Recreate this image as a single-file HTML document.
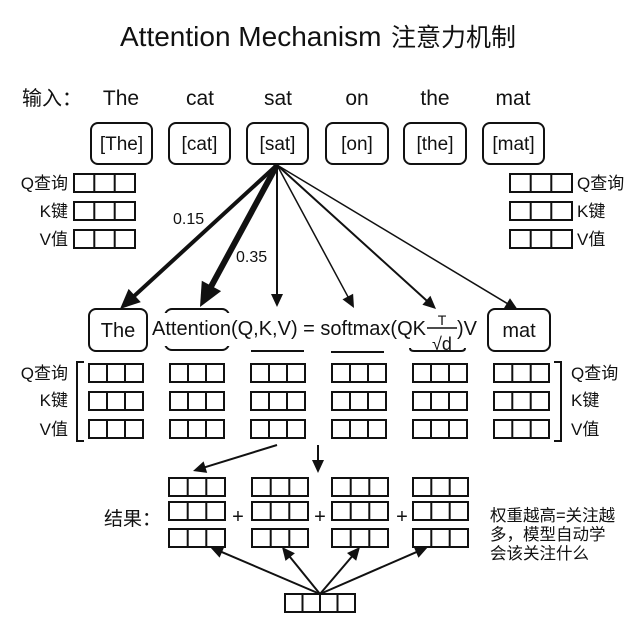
<!DOCTYPE html>
<html><head><meta charset="utf-8"><style>
html,body{margin:0;padding:0;background:#fff;}
svg{display:block;}
text{font-family:"Liberation Sans","Noto Sans CJK SC",sans-serif;fill:#111;}
</style></head><body>
<svg width="640" height="640" viewBox="0 0 640 640" xmlns="http://www.w3.org/2000/svg">
<rect width="640" height="640" fill="#fff"/>
<!-- Title -->
<text x="120" y="46" font-size="28">Attention Mechanism</text>
<text x="391" y="46" font-size="25">注意力机制</text>

<!-- input row -->
<text x="22" y="105" font-size="20">输入：</text>
<g font-size="21" text-anchor="middle">
<text x="121" y="105">The</text>
<text x="200" y="105">cat</text>
<text x="278" y="105">sat</text>
<text x="357" y="105">on</text>
<text x="435" y="105">the</text>
<text x="513" y="105">mat</text>
</g>

<!-- token boxes -->
<g fill="none" stroke="#111" stroke-width="2">
<rect x="91" y="123" width="61" height="41" rx="7"/>
<rect x="169" y="123" width="61" height="41" rx="7"/>
<rect x="247" y="123" width="61" height="41" rx="7"/>
<rect x="326" y="123" width="62" height="41" rx="7"/>
<rect x="404" y="123" width="62" height="41" rx="7"/>
<rect x="483" y="123" width="61" height="41" rx="7"/>
</g>
<g font-size="19" text-anchor="middle">
<text x="121.5" y="150">[The]</text>
<text x="199.5" y="150">[cat]</text>
<text x="277.5" y="150">[sat]</text>
<text x="357" y="150">[on]</text>
<text x="435" y="150">[the]</text>
<text x="513.5" y="150">[mat]</text>
</g>

<!-- top left QKV -->
<g font-size="17" text-anchor="end">
<text x="68" y="189">Q查询</text>
<text x="68" y="217">K键</text>
<text x="68" y="245">V值</text>
</g>
<g fill="none" stroke="#111" stroke-width="2">
<rect x="74" y="174" width="61" height="18"/><path d="M94.3 174V192M114.7 174V192"/>
<rect x="74" y="202" width="61" height="18"/><path d="M94.3 202V220M114.7 202V220"/>
<rect x="74" y="230" width="61" height="18"/><path d="M94.3 230V248M114.7 230V248"/>
<rect x="510" y="174" width="62" height="18"/><path d="M530.7 174V192M551.3 174V192"/>
<rect x="510" y="202" width="62" height="18"/><path d="M530.7 202V220M551.3 202V220"/>
<rect x="510" y="230" width="62" height="18"/><path d="M530.7 230V248M551.3 230V248"/>
</g>
<g font-size="17">
<text x="577" y="189">Q查询</text>
<text x="577" y="217">K键</text>
<text x="577" y="245">V值</text>
</g>

<!-- attention arrows from sat -->
<g stroke="#111" fill="none" stroke-linecap="butt">
<line x1="277" y1="165" x2="131.8" y2="298.2" stroke-width="4"/>
<line x1="277" y1="165" x2="209.5" y2="289.4" stroke-width="6"/>
<line x1="277" y1="165" x2="277" y2="296" stroke-width="2"/>
<line x1="277" y1="165" x2="348.8" y2="298.3" stroke-width="1.5"/>
<line x1="277" y1="165" x2="427.8" y2="301.6" stroke-width="2"/>
<line x1="277" y1="165" x2="508.6" y2="304.3" stroke-width="1.5"/>
</g>
<g fill="#111">
<polygon points="120,309 140.8,302.1 128.6,288.9"/>
<polygon points="200,307 221.1,291.1 201.8,280.7"/>
<polygon points="277,307 271,294 283,294"/>
<polygon points="354,308 353.1,293.7 342.5,299.4"/>
<polygon points="436,309 430.4,295.8 422.4,304.7"/>
<polygon points="518,310 510,298.2 503.8,308.4"/>
</g>
<text x="173" y="224" font-size="16">0.15</text>
<text x="236" y="262" font-size="16">0.35</text>

<!-- row 2 -->
<g fill="none" stroke="#111" stroke-width="2">
<rect x="89" y="309" width="58" height="42" rx="7"/>
<rect x="488" y="309" width="62" height="42" rx="7"/>
<rect x="165" y="309" width="64" height="41" rx="7"/>
</g>
<rect x="150" y="313" width="330" height="33" fill="#fff"/>
<g fill="none" stroke="#111" stroke-width="2">
<line x1="251" y1="351" x2="304" y2="351"/>
<line x1="331" y1="352" x2="384" y2="352"/>
<path d="M410 348Q410 351 414 351H461Q465 351 465 348"/>
</g>
<text x="118" y="337" font-size="20" text-anchor="middle">The</text>
<text x="519" y="337" font-size="20" text-anchor="middle">mat</text>
<text x="152" y="335" font-size="20">Attention(Q,K,V) = softmax(QK</text>
<text x="442" y="325" font-size="14" text-anchor="middle">T</text>
<line x1="427" y1="328" x2="457" y2="328" stroke="#111" stroke-width="1.5"/>
<text x="442" y="350" font-size="18" text-anchor="middle">√d</text>
<text x="457" y="335" font-size="20">)V</text>

<!-- middle grids -->
<g fill="none" stroke="#111" stroke-width="2">
<rect x="89" y="364" width="54" height="18"/><path d="M107 364V382M125 364V382"/>
<rect x="89" y="392" width="54" height="18"/><path d="M107 392V410M125 392V410"/>
<rect x="89" y="420" width="54" height="18"/><path d="M107 420V438M125 420V438"/>
<rect x="170" y="364" width="54" height="18"/><path d="M188 364V382M206 364V382"/>
<rect x="170" y="392" width="54" height="18"/><path d="M188 392V410M206 392V410"/>
<rect x="170" y="420" width="54" height="18"/><path d="M188 420V438M206 420V438"/>
<rect x="251" y="364" width="54" height="18"/><path d="M269 364V382M287 364V382"/>
<rect x="251" y="392" width="54" height="18"/><path d="M269 392V410M287 392V410"/>
<rect x="251" y="420" width="54" height="18"/><path d="M269 420V438M287 420V438"/>
<rect x="332" y="364" width="54" height="18"/><path d="M350 364V382M368 364V382"/>
<rect x="332" y="392" width="54" height="18"/><path d="M350 392V410M368 392V410"/>
<rect x="332" y="420" width="54" height="18"/><path d="M350 420V438M368 420V438"/>
<rect x="413" y="364" width="54" height="18"/><path d="M431 364V382M449 364V382"/>
<rect x="413" y="392" width="54" height="18"/><path d="M431 392V410M449 392V410"/>
<rect x="413" y="420" width="54" height="18"/><path d="M431 420V438M449 420V438"/>
<rect x="494" y="364" width="55" height="18"/><path d="M512.3 364V382M530.7 364V382"/>
<rect x="494" y="392" width="55" height="18"/><path d="M512.3 392V410M530.7 392V410"/>
<rect x="494" y="420" width="55" height="18"/><path d="M512.3 420V438M530.7 420V438"/>
<path d="M84 362H77V441H84"/>
<path d="M554 362H561V441H554"/>
</g>
<g font-size="17" text-anchor="end">
<text x="68" y="379">Q查询</text>
<text x="68" y="406">K键</text>
<text x="68" y="435">V值</text>
</g>
<g font-size="17">
<text x="571" y="379">Q查询</text>
<text x="571" y="406">K键</text>
<text x="571" y="435">V值</text>
</g>

<!-- bottom arrows -->
<g stroke="#111" stroke-width="2" fill="none">
<line x1="277" y1="445" x2="203.5" y2="467.7"/>
<line x1="318" y1="445" x2="318" y2="462"/>
<line x1="320" y1="594" x2="220.1" y2="551.3"/>
<line x1="320" y1="594" x2="288.9" y2="555.6"/>
<line x1="320" y1="594" x2="352.9" y2="555.4"/>
<line x1="320" y1="594" x2="417.9" y2="551.4"/>
</g>
<g fill="#111">
<polygon points="193,471 207.2,472.9 203.6,461.4"/>
<polygon points="318,473 312,460 324,460"/>
<polygon points="210,547 224.4,546.6 219.6,557.6"/>
<polygon points="282,547 294.9,553.3 285.5,560.9"/>
<polygon points="360,547 356.2,560.8 347,553"/>
<polygon points="428,547 418.5,557.7 413.7,546.7"/>
</g>

<!-- result grids -->
<g fill="none" stroke="#111" stroke-width="2">
<rect x="169" y="478" width="56" height="18"/><path d="M187.7 478V496M206.3 478V496"/>
<rect x="169" y="502" width="56" height="18"/><path d="M187.7 502V520M206.3 502V520"/>
<rect x="169" y="529" width="56" height="18"/><path d="M187.7 529V547M206.3 529V547"/>
<rect x="252" y="478" width="56" height="18"/><path d="M270.7 478V496M289.3 478V496"/>
<rect x="252" y="502" width="56" height="18"/><path d="M270.7 502V520M289.3 502V520"/>
<rect x="252" y="529" width="56" height="18"/><path d="M270.7 529V547M289.3 529V547"/>
<rect x="332" y="478" width="56" height="18"/><path d="M350.7 478V496M369.3 478V496"/>
<rect x="332" y="502" width="56" height="18"/><path d="M350.7 502V520M369.3 502V520"/>
<rect x="332" y="529" width="56" height="18"/><path d="M350.7 529V547M369.3 529V547"/>
<rect x="413" y="478" width="55" height="18"/><path d="M431.3 478V496M449.7 478V496"/>
<rect x="413" y="502" width="55" height="18"/><path d="M431.3 502V520M449.7 502V520"/>
<rect x="413" y="529" width="55" height="18"/><path d="M431.3 529V547M449.7 529V547"/>
<rect x="285" y="594" width="70" height="18"/><path d="M302.5 594V612M320 594V612M337.5 594V612"/>
</g>
<text x="104" y="525" font-size="19">结果：</text>
<g font-size="20" text-anchor="middle">
<text x="238" y="523">+</text>
<text x="320" y="523">+</text>
<text x="402" y="523">+</text>
</g>
<g font-size="16.5">
<text x="490" y="521">权重越高=关注越</text>
<text x="490" y="540">多，模型自动学</text>
<text x="490" y="559">会该关注什么</text>
</g>
</svg>
</body></html>
